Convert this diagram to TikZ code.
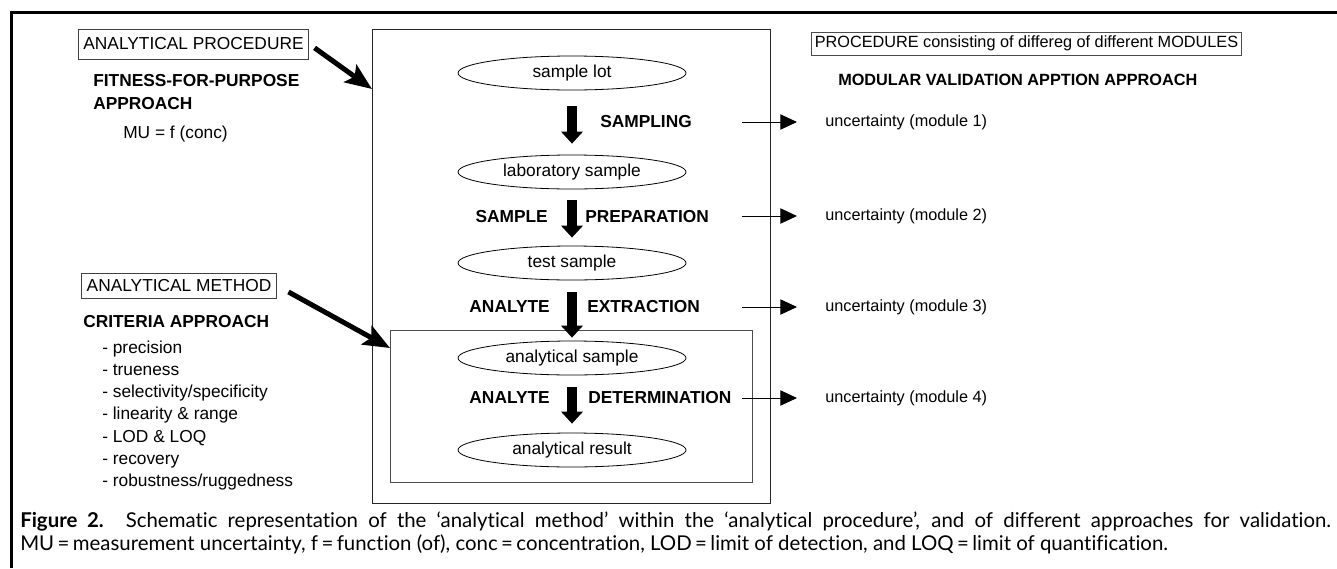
\documentclass[tikz,border=0pt]{standalone}
\usepackage{fontspec}
\setmainfont{Liberation Sans}
\newfontfamily\capfont[Ligatures={NoCommon}]{Lato}
\usetikzlibrary{arrows.meta,shapes.geometric}
\begin{document}
\begin{tikzpicture}[x={(0.75pt,0)},y={(0,-0.75pt)},
 txt/.style={inner sep=0pt, font=\fontsize{13pt}{15pt}\selectfont},
 btxt/.style={inner sep=0pt, font=\fontsize{13pt}{15pt}\selectfont\bfseries},
 rtxt/.style={inner sep=0pt, font=\fontsize{12.2pt}{14pt}\selectfont},
 lbox/.style={draw=black!75, line width=0.75pt, inner xsep=3.75pt, inner ysep=0pt, font=\fontsize{13pt}{15pt}\selectfont},
 oval/.style={ellipse, draw, line width=0.6pt, inner sep=0pt, minimum width=171pt, minimum height=25.5pt, font=\fontsize{13pt}{15pt}\selectfont},
 framebox/.style={draw=black!85, line width=0.75pt, inner sep=0pt},
 downarrow/.style={line width=7pt, -{Triangle[length=9pt,width=16pt]}},
 bigarrow/.style={line width=3.75pt, -{Stealth[length=20pt,width=16pt,inset=4pt]}},
 thinarrow/.style={line width=0.75pt, -{Triangle[length=12.5pt,width=11.5pt]}},
 captxt/.style={anchor=base west, inner sep=0pt, font=\capfont\fontsize{15.3pt}{17pt}\selectfont}]
\useasboundingbox (0,0) rectangle (1337,568);
% outer frame
\draw[line width=2.25pt] (11,568) -- (11,12) -- (1337,12);
% main boxes
\node[framebox, minimum width=298.5pt, minimum height=355.5pt] (proc) at (571,266) {};
\node[framebox, draw=black!70, minimum width=271.5pt, minimum height=114pt] (meth) at (571,406) {};
% ellipses
\node[oval] (lot) at (572,73) {sample lot};
\node[oval] (lab) at (572,172) {laboratory sample};
\node[oval] (test) at (572,263) {test sample};
\node[oval] (asmp) at (572,358) {analytical sample};
\node[oval] (res) at (572,450) {analytical result};
% down arrows
\draw[downarrow, shorten <=12pt, shorten >=8.25pt] (lot) -- (lab);
\draw[downarrow, shorten <=8.25pt, shorten >=6pt] (lab) -- (test);
\draw[downarrow, shorten <=9pt, shorten >=2.25pt] (test) -- (asmp);
\draw[downarrow, shorten <=9pt, shorten >=6.75pt] (asmp) -- (res);
% step labels
\node[btxt, anchor=west] (l1) at (600,122) {SAMPLING};
\node[btxt, anchor=east] (l2a) at (548,217) {SAMPLE};
\node[btxt, anchor=west] (l2b) at (585,217) {PREPARATION};
\node[btxt, anchor=east] (l3a) at (550,307) {ANALYTE};
\node[btxt, anchor=west] (l3b) at (587,307) {EXTRACTION};
\node[btxt, anchor=east] (l4a) at (550,398) {ANALYTE};
\node[btxt, anchor=west] (l4b) at (588,398) {DETERMINATION};
% left side
\node[lbox, minimum height=22.5pt] (ap) at (193.5,44) {ANALYTICAL PROCEDURE};
\node[btxt, anchor=base west] (ffp1) at (93,86) {FITNESS-FOR-PURPOSE};
\node[btxt, anchor=base west] (ffp2) at (93,109) {APPROACH};
\node[txt, anchor=base west] (mu) at (123,138) {MU = f (conc)};
\node[lbox, minimum height=18.75pt] (am) at (179,285.5) {ANALYTICAL METHOD};
\node[btxt, anchor=base west] (crit) at (83,327) {CRITERIA APPROACH};
\foreach \t [count=\i] in {precision,trueness,selectivity/specificity,linearity \& range,LOD \& LOQ,recovery,robustness/ruggedness}
  \node[txt, anchor=base west] (c\i) at (102,{353+22.3*(\i-1)}) {- \t};
\coordinate (t1) at (372,89);
\coordinate (t2) at (390,348);
\draw[bigarrow, shorten <=5pt] (ap.east) -- (t1);
\draw[bigarrow, shorten <=10pt] (am.east) -- (t2);
% right side
\node[lbox, draw=black!70, font=\fontsize{12.2pt}{14pt}\selectfont, minimum height=17.25pt, inner xsep=2.6pt] (pm) at (1026.5,43.5) {PROCEDURE consisting of differeg of different MODULES};
\node[rtxt, font=\fontsize{12.2pt}{14pt}\selectfont\bfseries, anchor=west] (mva) at (838,80) {MODULAR VALIDATION APPTION APPROACH};
\foreach \y [count=\i] in {122,216,307,398} {
  \node[rtxt, anchor=west] (u\i) at (825,\y) {uncertainty (module \i)};
  \coordinate (s\i) at (742,\y);
  \draw[thinarrow, shorten >=21pt] (s\i) -- (u\i.west);
}
% caption
\node[captxt] (cap1) at (20,527)
  {\makebox[983pt][s]{\textbf{Figure 2.} Schematic representation of the ‘analytical method’ within the ‘analytical procedure’, and of different approaches for validation.}};
\node[captxt] (cap2) at (20,550.7)
  {MU\,=\,measurement uncertainty, f\,=\,function (of), conc\,=\,concentration, LOD\,=\,limit of detection, and LOQ\,=\,limit of quantification.};
\end{tikzpicture}
\end{document}
